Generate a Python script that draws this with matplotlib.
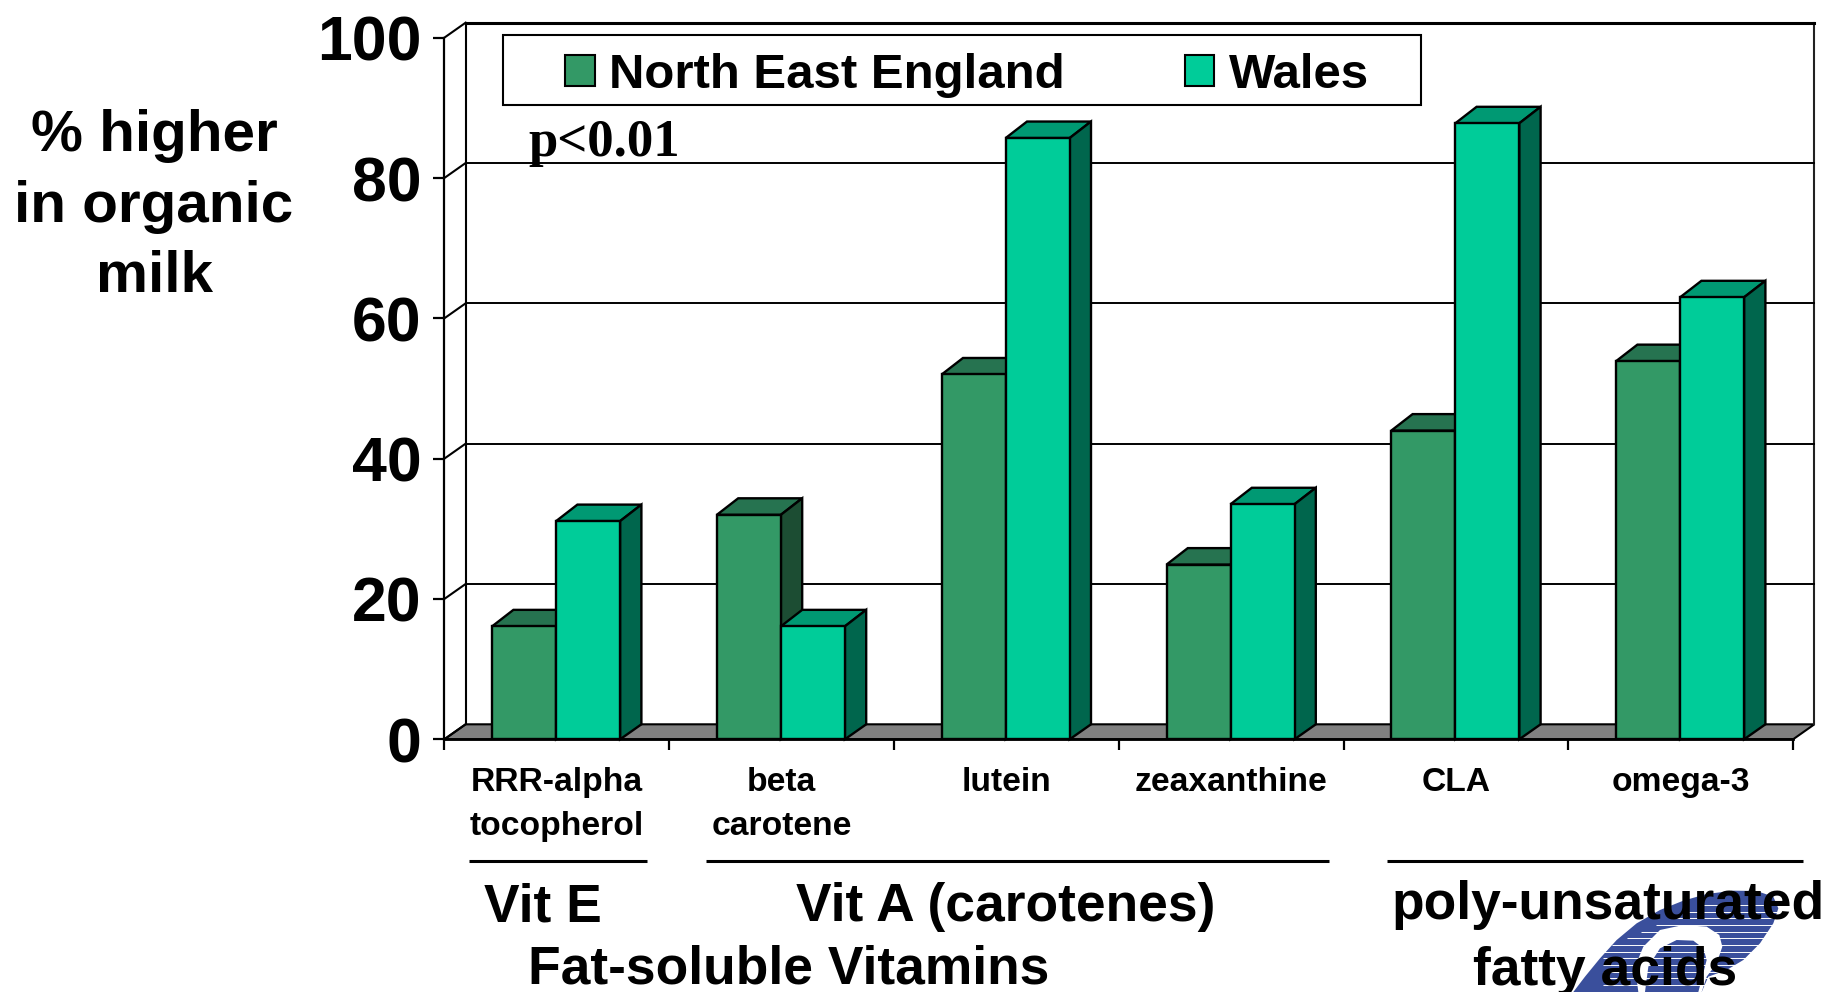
import matplotlib
matplotlib.use('Agg')
import matplotlib.pyplot as plt
from matplotlib.patches import Polygon, Rectangle

# 数据
categories = ['RRR-alpha\ntocopherol', 'beta\ncarotene', 'lutein', 'zeaxanthine', 'CLA', 'omega-3']
north_east = [16.1, 32, 52, 24.9, 44, 53.9]
wales = [31.1, 16.1, 85.7, 33.5, 87.8, 63]
y_ticks = [0, 20, 40, 60, 80, 100]
series_names = ['North East England', 'Wales']

W, H = 1827, 992
# 三种面的颜色：正面、顶面、侧面
NE_COLORS = ('#339966', '#267350', '#1c4d33')
WALES_COLORS = ('#00cc99', '#009973', '#00664d')

plt.rcParams['font.family'] = ['Liberation Sans', 'DejaVu Sans']
plt.rcParams['font.weight'] = 'bold'

fig = plt.figure(figsize=(W / 100, H / 100), dpi=100)

# 覆盖整张图的像素坐标轴，放注释和logo
page = fig.add_axes([0, 0, 1, 1], zorder=0)
page.set_xlim(0, W)
page.set_ylim(H, 0)
page.axis('off')

# 图表正面：x 从 444 到 1793，y 从 739.3 到 37.7
CAT_W = 224.8
ax = fig.add_axes([444.3 / W, 1 - 739.3 / H, 6 * CAT_W / W, 701.6 / H], zorder=1)
ax.patch.set_alpha(0)
ax.set_xlim(0, 6)
ax.set_ylim(0, 100)
for s in ['top', 'right', 'bottom']:
    ax.spines[s].set_visible(False)
ax.spines['left'].set_linewidth(1.6)

# 3D 深度（数据单位）
DX = 21.3 / CAT_W
DY = 15 / 7.02
BAR_W = 64 / CAT_W
OFFSET = 47.8 / CAT_W

# 地板和背景墙
ax.add_patch(Polygon([(0, 0), (6, 0), (6 + DX, DY), (DX, DY)], closed=True, fc='#808080', ec='black',
                     lw=1.5, clip_on=False, zorder=1))
ax.plot([DX, DX], [DY, 100 + DY], color='black', lw=1.5, clip_on=False, zorder=1)
ax.plot([6 + DX, 6 + DX], [DY, 100 + DY], color='#222222', lw=1.5, clip_on=False, zorder=1)
for v in y_ticks:
    ax.plot([0, DX], [v, v + DY], color='black', lw=1.5, clip_on=False, zorder=1)
    if v > 0:
        ax.plot([DX, 6 + DX], [v + DY, v + DY], color='black', lw=2.2 if v == 100 else 1.4, clip_on=False, zorder=1)


def draw_bar(x, value, colors, order):
    ax.bar(x, value, BAR_W, align='edge', color=colors[0], edgecolor='black', linewidth=1.7, zorder=order + 1)
    ax.add_patch(Polygon([(x, value), (x + BAR_W, value), (x + BAR_W + DX, value + DY * 1.1), (x + DX, value + DY * 1.1)],
                         closed=True, fc=colors[1], ec='black', lw=1.7, clip_on=False, zorder=order))
    ax.add_patch(Polygon([(x + BAR_W, 0), (x + BAR_W + DX, DY), (x + BAR_W + DX, value + DY * 1.1), (x + BAR_W, value)],
                         closed=True, fc=colors[2], ec='black', lw=1.7, clip_on=False, zorder=order))


for i in range(len(categories)):
    draw_bar(i + OFFSET, north_east[i], NE_COLORS, 2 + i * 4)
    draw_bar(i + OFFSET + BAR_W, wales[i], WALES_COLORS, 4 + i * 4)

ax.set_yticks(y_ticks)
ax.tick_params(axis='y', length=8, width=1.6, labelsize=45, pad=8.5)
ax.set_xticks(range(7))
ax.set_xticklabels([''] * 7)
ax.tick_params(axis='x', length=8, width=1.6)
ax.plot([0, 6], [0, 0], color='black', lw=2, clip_on=False, zorder=40)
for i, label in enumerate(categories):
    ax.annotate(label, (i + 0.5, 0), xytext=(0, -20), textcoords='offset points', ha='center', va='top',
                fontsize=24.2, linespacing=1.52, annotation_clip=False)

# 图例框
page.add_patch(Rectangle((503, 35), 918, 70, fc='white', ec='black', lw=1.5, zorder=3))
fig_handles = [Rectangle((0, 0), 1, 1, fc=NE_COLORS[0], ec='black', lw=1.5),
               Rectangle((0, 0), 1, 1, fc=WALES_COLORS[0], ec='black', lw=1.5)]
leg = page.legend(fig_handles, series_names, ncol=2, frameon=False, fontsize=35.4, loc='center',
                  bbox_to_anchor=(967 / W, 1 - 75 / H), bbox_transform=fig.transFigure,
                  handlelength=0.6, handleheight=0.6, handletextpad=0.3, columnspacing=2.43)
leg.set_zorder(4)

page.text(528, 156, 'p<0.01', family=['Liberation Serif'], fontsize=38, fontweight='bold', zorder=5, va='baseline')

# 左侧标题
page.text(154, 151, '% higher', fontsize=42, ha='center', va='baseline')
page.text(154, 222, 'in organic', fontsize=42, ha='center', va='baseline')
page.text(154, 292, 'milk', fontsize=42, ha='center', va='baseline')


# logo（背景图案，非数据），坐标按 3 倍放大的裁剪读取
def logo_pts(pts):
    return [(1560 + x / 3, 880 + y / 3) for x, y in pts]


LOGO = '#3a4f9c'
outer = [(40, 336), (75, 290), (120, 235), (170, 180), (230, 130), (300, 90), (370, 62), (440, 42), (520, 32),
         (590, 33), (640, 50), (655, 85), (640, 130), (600, 190), (550, 240), (500, 270), (445, 290), (425, 336)]
swirl = [(235, 336), (225, 260), (250, 200), (300, 150), (370, 135), (440, 140), (478, 165), (487, 200),
         (470, 250), (440, 290), (425, 336)]
blob = [(255, 336), (265, 260), (300, 205), (350, 180), (400, 182), (430, 205), (440, 240), (415, 336)]
page.add_patch(Polygon(logo_pts(outer), closed=True, fc=LOGO, ec='none', zorder=1))
page.add_patch(Polygon(logo_pts(swirl), closed=True, fc='white', ec='none', zorder=1.2))
page.add_patch(Polygon(logo_pts(blob), closed=True, fc=LOGO, ec='none', zorder=1.3))
for zy in range(75, 336, 20):
    zx = max(130, 420 - 2.2 * (zy - 75))
    (x0, y0), (x1, y1) = logo_pts([(zx, zy), (665, zy)])
    page.plot([x0, x1], [y0, y1], color='white', lw=0.7, solid_capstyle='butt', zorder=1.5)

# 分组线和分组文字
for x0, x1 in [(469, 647), (706, 1329), (1387, 1803)]:
    page.plot([x0, x1], [861, 861], color='black', lw=2.2, solid_capstyle='butt', zorder=2)
page.text(543, 921, 'Vit E', fontsize=38.4, ha='center', va='baseline', zorder=5)
page.text(1006, 921, 'Vit A (carotenes)', fontsize=38.4, ha='center', va='baseline', zorder=5)
page.text(1608, 919, 'poly-unsaturated', fontsize=38.4, ha='center', va='baseline', zorder=5)
page.text(1605, 985, 'fatty acids', fontsize=38.4, ha='center', va='baseline', zorder=5)
page.text(789, 984, 'Fat-soluble Vitamins', fontsize=38.4, ha='center', va='baseline', zorder=5)

fig.savefig('out.png', dpi=100)
